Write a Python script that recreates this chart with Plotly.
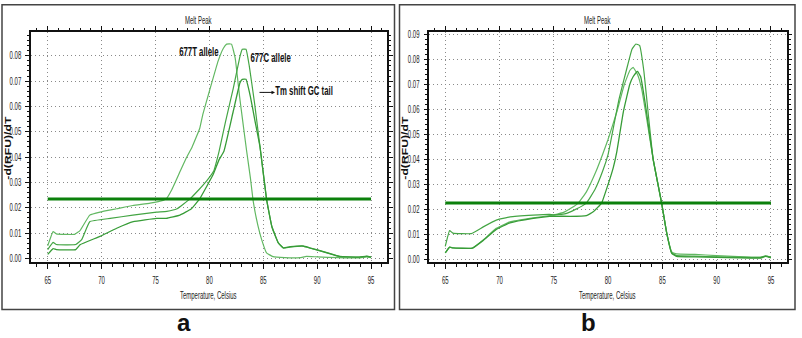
import plotly.graph_objects as go

# ---------------- data: panel a ----------------
a_t677_T = [65.0, 65.5, 65.8, 67.5, 68.0, 68.9, 69.85, 71.4, 72.9, 74.5, 75.7, 76.0, 76.5, 77.3,
            77.9, 78.4, 79.1, 79.4, 80.0, 80.8, 81.3, 81.6, 82.05, 82.4, 82.8, 83.1, 83.46, 83.8,
            84.07, 84.5, 84.85, 85.3, 85.9, 87.0, 88.4, 89.0, 90.0, 92.0, 94.0, 94.6, 95.0]
a_t677_v = [0.0050, 0.0106, 0.0097, 0.0095, 0.0110, 0.0171, 0.0183, 0.0196, 0.0209, 0.0218, 0.0229,
            0.0235, 0.0270, 0.0345, 0.0400, 0.0440, 0.0513, 0.0570, 0.0660, 0.0778, 0.0830, 0.0846,
            0.0846, 0.0790, 0.0640, 0.0540, 0.0423, 0.0320, 0.0225, 0.0130, 0.0074, 0.0022, 0.0007,
            0.0003, 0.0003, 0.0008, 0.0006, 0.0003, 0.0002, 0.0006, 0.0003]

a_c677_T = [65.0, 65.5, 65.8, 67.6, 68.15, 68.9, 70.8, 72.9, 75.1, 76.05, 77.0, 78.2, 79.0, 79.75,
            80.4, 80.9, 81.5, 82.2, 82.84, 83.05, 83.4, 83.7, 84.2, 84.7, 85.3, 85.8, 86.4, 86.85,
            87.5, 88.7, 89.3, 90.9, 92.1, 93.9, 94.6, 95.0]
a_c677_v = [0.0035, 0.0063, 0.0055, 0.0055, 0.0074, 0.0145, 0.0158, 0.0171, 0.0183, 0.0186, 0.0196,
            0.0235, 0.0270, 0.0306, 0.0345, 0.0423, 0.0540, 0.0668, 0.0798, 0.0826, 0.0826, 0.0760,
            0.0610, 0.0440, 0.0235, 0.0125, 0.0061, 0.0041, 0.0045, 0.0048, 0.0041, 0.0022, 0.0007,
            0.0005, 0.0008, 0.0005]

a_gc_T = [65.0, 65.5, 65.8, 67.6, 68.0, 69.85, 71.4, 72.94, 75.1, 76.0, 77.27, 78.3, 79.1, 79.7,
          80.36, 80.9, 81.35, 82.2, 82.84, 83.05, 83.4, 83.8, 84.2, 84.7, 85.3, 85.8, 86.4, 86.85,
          87.5, 88.7, 89.3, 90.9, 92.1, 93.9, 94.6, 95.0]
a_gc_v = [0.0016, 0.0039, 0.0035, 0.0035, 0.0054, 0.0087, 0.0119, 0.0145, 0.0158, 0.0158, 0.0171,
          0.0195, 0.0235, 0.0280, 0.0332, 0.0390, 0.0423, 0.0578, 0.0694, 0.0707, 0.0707, 0.0640,
          0.0550, 0.0440, 0.0235, 0.0125, 0.0061, 0.0042, 0.0046, 0.0049, 0.0042, 0.0023, 0.0008,
          0.0005, 0.0009, 0.0005]

a_threshold = 0.0235

# ---------------- data: panel b ----------------
b_s1_T = [65.0, 65.4, 65.7, 67.5, 68.5, 69.7, 70.96, 73.1, 74.6, 75.0, 76.0, 76.6, 77.25, 78.0,
          78.9, 79.5, 80.0, 80.8, 81.5, 82.0, 82.3, 82.7, 83.1, 83.6, 84.15, 84.93, 85.4, 85.86,
          86.3, 88.0, 90.0, 92.0, 94.0, 94.5, 95.0]
b_s1_v = [0.0026, 0.0049, 0.0046, 0.0045, 0.0078, 0.0124, 0.0150, 0.0166, 0.0175, 0.0178, 0.0190,
          0.0205, 0.0225, 0.0270, 0.0353, 0.0420, 0.0480, 0.0589, 0.0700, 0.0755, 0.0768, 0.0740,
          0.0680, 0.0550, 0.0400, 0.0225, 0.0105, 0.0030, 0.0022, 0.0020, 0.0015, 0.0011, 0.0009,
          0.0014, 0.0009]

b_s2_T = [65.0, 65.4, 65.7, 67.4, 68.5, 69.7, 70.96, 73.1, 74.6, 75.0, 76.0, 77.0, 78.0, 78.8,
          79.5, 80.0, 80.47, 81.0, 81.7, 82.2, 82.56, 82.9, 83.3, 83.7, 84.15, 84.93, 85.4, 85.86,
          86.3, 88.0, 90.0, 92.0, 94.0, 94.5, 95.0]
b_s2_v = [0.0052, 0.0115, 0.0105, 0.0103, 0.0130, 0.0157, 0.0170, 0.0177, 0.0180, 0.0178, 0.0182,
          0.0200, 0.0225, 0.0280, 0.0353, 0.0420, 0.0523, 0.0640, 0.0759, 0.0840, 0.0861, 0.0855,
          0.0750, 0.0580, 0.0400, 0.0225, 0.0105, 0.0026, 0.0015, 0.0013, 0.0010, 0.0008, 0.0007,
          0.0013, 0.0008]

b_s3_T = [65.0, 65.4, 65.7, 67.5, 68.5, 69.7, 70.96, 73.1, 74.6, 75.0, 76.5, 78.0, 78.63, 79.4,
          80.0, 80.47, 80.8, 81.4, 82.0, 82.3, 82.7, 83.0, 83.5, 84.15, 84.93, 85.4, 85.86, 86.3,
          88.0, 90.0, 92.0, 94.0, 94.5, 95.0]
b_s3_v = [0.0026, 0.0049, 0.0046, 0.0045, 0.0076, 0.0120, 0.0146, 0.0164, 0.0172, 0.0173, 0.0172,
          0.0175, 0.0190, 0.0225, 0.0300, 0.0366, 0.0430, 0.0589, 0.0700, 0.0730, 0.0752, 0.0730,
          0.0600, 0.0400, 0.0225, 0.0105, 0.0024, 0.0012, 0.0010, 0.0008, 0.0006, 0.0005, 0.0012,
          0.0006]

b_threshold = 0.0225

x_ticks = [65, 70, 75, 80, 85, 90, 95]
y_ticks_a = [0.00, 0.01, 0.02, 0.03, 0.04, 0.05, 0.06, 0.07, 0.08]
y_ticks_b = [0.00, 0.01, 0.02, 0.03, 0.04, 0.05, 0.06, 0.07, 0.08, 0.09]

# ---------------- figure ----------------
W, H = 802, 338
SANS = "Liberation Sans, Arial, sans-serif"


def px(x):
    return x / W


def py(y):
    return 1 - y / H


fig = go.Figure()

curve_styles = [("#62b862", 1.2), ("#44a544", 1.2), ("#379c37", 1.3)]

for (T, v), (col, w) in zip([(a_t677_T, a_t677_v), (a_c677_T, a_c677_v), (a_gc_T, a_gc_v)], curve_styles):
    fig.add_trace(go.Scatter(x=T, y=v, mode="lines", line=dict(color=col, width=w, shape="spline", smoothing=0.3),
                             xaxis="x", yaxis="y", hoverinfo="skip"))
fig.add_trace(go.Scatter(x=[x_ticks[0], x_ticks[-1]], y=[a_threshold, a_threshold], mode="lines",
                         line=dict(color="#0b800b", width=3), xaxis="x", yaxis="y", hoverinfo="skip"))

for (T, v), (col, w) in zip([(b_s1_T, b_s1_v), (b_s2_T, b_s2_v), (b_s3_T, b_s3_v)], curve_styles):
    fig.add_trace(go.Scatter(x=T, y=v, mode="lines", line=dict(color=col, width=w, shape="spline", smoothing=0.3),
                             xaxis="x2", yaxis="y2", hoverinfo="skip"))
fig.add_trace(go.Scatter(x=[x_ticks[0], x_ticks[-1]], y=[b_threshold, b_threshold], mode="lines",
                         line=dict(color="#0b800b", width=3), xaxis="x2", yaxis="y2", hoverinfo="skip"))

tickfont = dict(family=SANS, size=10, color="#222")
GRID_DASH = "1px,3px"


def xaxis(domain, rng, anchor):
    return dict(domain=domain, range=rng, anchor=anchor, tickvals=x_ticks,
                ticks="outside", ticklen=5, tickwidth=1, tickcolor="#111",
                showline=True, linecolor="#111", linewidth=1.5, mirror="allticks",
                minor=dict(dtick=1, tick0=65, ticklen=3, ticks="outside", tickcolor="#111", showgrid=False),
                showgrid=True, gridcolor="#8a8a8a", griddash=GRID_DASH, gridwidth=1,
                zeroline=False, tickfont=tickfont, ticklabelstandoff=3)


def yaxis(domain, rng, anchor, tv):
    return dict(domain=domain, range=rng, anchor=anchor, tickvals=tv, tickformat=".2f",
                ticks="outside", ticklen=4, tickwidth=1, tickcolor="#111",
                showline=True, linecolor="#111", linewidth=1.5, mirror="allticks",
                minor=dict(dtick=0.002, tick0=0, ticklen=2.5, ticks="outside", tickcolor="#111", showgrid=False),
                showgrid=True, gridcolor="#8a8a8a", griddash=GRID_DASH, gridwidth=1,
                zeroline=False, tickfont=tickfont, ticklabelstandoff=2)


fig.update_layout(
    width=W, height=H, margin=dict(l=0, r=0, t=0, b=0),
    paper_bgcolor="white", plot_bgcolor="white", showlegend=False,
    xaxis=xaxis([px(31), px(387)], [63.45, 96.48], "y"),
    yaxis=yaxis([py(262.7), py(29)], [-0.00143, 0.0892], "x", y_ticks_a),
    xaxis2=xaxis([px(429.3), px(786.7)], [63.53, 96.45], "y2"),
    yaxis2=yaxis([py(263), py(29)], [-0.00118, 0.0907], "x2", y_ticks_b),
)

# panel borders
for x0, x1 in [(2, 394.5), (399.5, 795)]:
    fig.add_shape(type="rect", xref="paper", yref="paper", x0=px(x0), x1=px(x1), y0=py(311), y1=py(0.8),
                  line=dict(color="#444", width=1.5), fillcolor="rgba(0,0,0,0)", layer="below")

ann = []
small = dict(family=SANS, size=10, color="#222")
ylab_font = dict(family=SANS, size=9, color="#111", weight="bold")
bold13 = dict(family=SANS, size=13, color="#111", weight="bold")
for cx, tx, ylab_x in [(198, 208, 8), (597, 607, 405)]:
    ann.append(dict(text="Melt Peak", x=px(cx), y=py(17), xref="paper", yref="paper",
                    showarrow=False, font=small, xanchor="center", yanchor="middle"))
    ann.append(dict(text="Temperature, Celsius", x=px(tx), y=py(297), xref="paper", yref="paper",
                    showarrow=False, font=small, xanchor="center", yanchor="middle"))
    ann.append(dict(text="-d(RFU)/dT", x=px(ylab_x), y=py(147), xref="paper", yref="paper",
                    showarrow=False, font=ylab_font, textangle=-90, xanchor="center", yanchor="middle"))

ann.append(dict(text="677T allele", x=px(199), y=py(48), xref="paper", yref="paper",
                showarrow=False, font=bold13, xanchor="center", yanchor="middle"))
ann.append(dict(text="677C allele", x=px(270.7), y=py(54), xref="paper", yref="paper",
                showarrow=False, font=bold13, xanchor="center", yanchor="middle"))
ann.append(dict(text="Tm shift GC tail", x=px(304), y=py(88.5), xref="paper", yref="paper",
                showarrow=False, font=bold13, xanchor="center", yanchor="middle"))
ann.append(dict(text="", x=px(275), y=py(90), xref="paper", yref="paper", showarrow=True,
                ax=-17, ay=0, arrowhead=2, arrowsize=0.7, arrowwidth=1, arrowcolor="#111"))

big = dict(family=SANS, size=24, color="#111", weight="bold")
ann.append(dict(text="a", x=px(184), y=py(324), xref="paper", yref="paper",
                showarrow=False, font=big, xanchor="center", yanchor="middle"))
ann.append(dict(text="b", x=px(588), y=py(324), xref="paper", yref="paper",
                showarrow=False, font=big, xanchor="center", yanchor="middle"))

fig.update_layout(annotations=ann)

# the source image is horizontally compressed (~0.6); reproduce by narrowing glyphs
squeeze_js = """
var gd = document.getElementById('{plot_id}');
function squeezeText() {
  var keep = {'a': 1, 'b': 1};
  var stretch = {'-d(RFU)/dT': 63};
  var els = gd.querySelectorAll('g.xtick text, g.ytick text, g.x2tick text, g.y2tick text, text.annotation-text');
  els.forEach(function (el) {
    var t = el.textContent;
    if (!t || keep[t]) { return; }
    el.removeAttribute('textLength');
    el.setAttribute('lengthAdjust', 'spacingAndGlyphs');
    if (stretch[t]) {
      el.setAttribute('textLength', stretch[t]);
      return;
    }
    var L = el.getComputedTextLength();
    el.setAttribute('textLength', (L * 0.6).toFixed(2));
  });
}
squeezeText();
gd.on('plotly_afterplot', squeezeText);
"""

fig.write_html("out.html", post_script=squeeze_js)
